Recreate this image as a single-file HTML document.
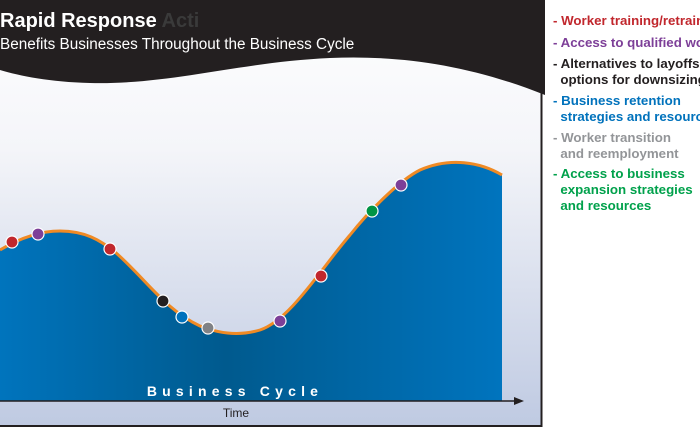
<!DOCTYPE html>
<html><head><meta charset="utf-8"><style>
html,body{margin:0;width:700px;height:441px;overflow:hidden;background:#fff;font-family:"Liberation Sans",sans-serif}
#leg{position:absolute;left:553px;top:0;width:147px;height:230px;overflow:hidden}
.l{position:absolute;left:0;font-weight:bold;font-size:13.3px;line-height:16px;white-space:nowrap}
</style></head><body>
<svg width="700" height="441" style="position:absolute;left:0;top:0">
<defs>
<linearGradient id="bg" x1="0" y1="0" x2="0" y2="1">
<stop offset="0" stop-color="#ffffff"/><stop offset="0.35" stop-color="#f4f5f9"/><stop offset="1" stop-color="#bfcae2"/></linearGradient>
<linearGradient id="bl" x1="0" y1="0" x2="1" y2="0">
<stop offset="0" stop-color="#0074bd"/><stop offset="0.45" stop-color="#005a8e"/><stop offset="1" stop-color="#0074be"/></linearGradient>
</defs>
<rect x="0" y="0" width="541" height="426" fill="url(#bg)"/>
<path d="M0,0 H545 V95 C470,65 400,55 330,58 C240,62 170,85 90,83 C50,82 20,76 0,70 Z" fill="#231f20"/>
<line x1="541.5" y1="0" x2="541.5" y2="427" stroke="#231f20" stroke-width="2"/>
<line x1="0" y1="426" x2="542" y2="426" stroke="#231f20" stroke-width="2"/>
<path d="M0,250 C20,238 40,231 60,231 C85,231 100,240 115,252 C145,278 165,310 200,326 C220,334 240,336 260,330 C290,320 320,270 350,235 C370,210 400,180 420,170 C450,157 480,162 502,175 V401 H0 Z" fill="url(#bl)"/>
<path d="M0,250 C20,238 40,231 60,231 C85,231 100,240 115,252 C145,278 165,310 200,326 C220,334 240,336 260,330 C290,320 320,270 350,235 C370,210 400,180 420,170 C450,157 480,162 502,175" fill="none" stroke="#f08a24" stroke-width="3"/>
<g stroke="#fff" stroke-width="1.2">
<circle cx="12" cy="242" r="6" fill="#c1272d"/>
<circle cx="38" cy="234" r="6" fill="#7d3f98"/>
<circle cx="110" cy="249" r="6" fill="#c1272d"/>
<circle cx="163" cy="301" r="6" fill="#231f20"/>
<circle cx="182" cy="317" r="6" fill="#0072bc"/>
<circle cx="208" cy="328" r="6" fill="#808285"/>
<circle cx="280" cy="321" r="6" fill="#7d3f98"/>
<circle cx="321" cy="276" r="6" fill="#c1272d"/>
<circle cx="372" cy="211" r="6" fill="#009444"/>
<circle cx="401" cy="185" r="6" fill="#7d3f98"/>
</g>
<line x1="0" y1="401" x2="516" y2="401" stroke="#231f20" stroke-width="1.5"/>
<path d="M524,401 L514,397 L514,405 Z" fill="#231f20"/>
<text x="235" y="396" text-anchor="middle" fill="#fff" font-weight="bold" font-size="14" letter-spacing="5.2">Business Cycle</text>
<text x="236" y="417" text-anchor="middle" fill="#231f20" font-size="12">Time</text>
<text x="0" y="27" fill="#fff" font-weight="bold" font-size="20">Rapid Response <tspan fill="#3a3a3a">Acti</tspan></text>
<text x="0" y="49" fill="#fff" font-size="15.3">Benefits Businesses Throughout the Business Cycle</text>
</svg>
<div id="leg">
<div class="l" style="top:13px;color:#c1272d">- Worker training/retraining</div>
<div class="l" style="top:35px;color:#7d3f98">- Access to qualified workers</div>
<div class="l" style="top:56px;color:#231f20">- Alternatives to layoffs<br>&nbsp;&nbsp;options for downsizing</div>
<div class="l" style="top:93px;color:#0072bc">- Business retention<br>&nbsp;&nbsp;strategies and resources</div>
<div class="l" style="top:130px;color:#939598">- Worker transition<br>&nbsp;&nbsp;and reemployment</div>
<div class="l" style="top:166px;color:#00a14b">- Access to business<br>&nbsp;&nbsp;expansion strategies<br>&nbsp;&nbsp;and resources</div>
</div>
</body></html>
